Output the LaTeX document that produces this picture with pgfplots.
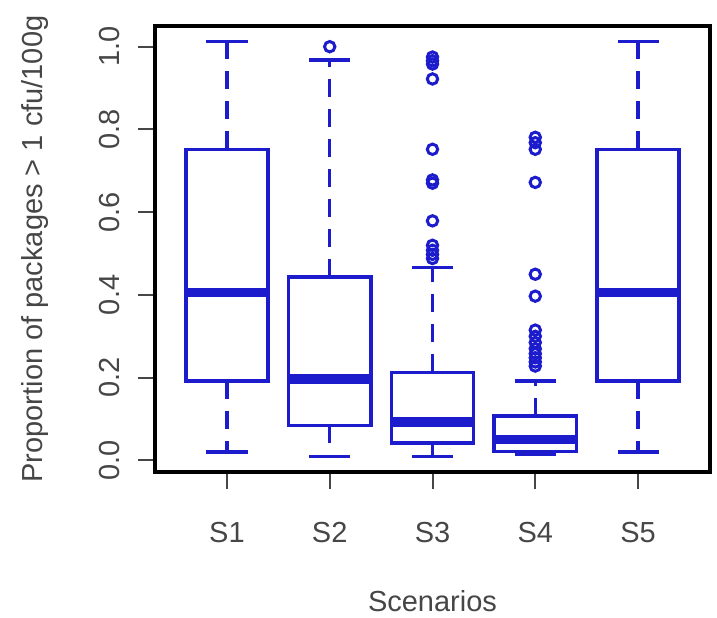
\documentclass[border=0pt]{standalone}
\usepackage{fontspec}
\setmainfont{Liberation Sans}
\usepackage{pgfplots}
\pgfplotsset{compat=1.18}
\usepgfplotslibrary{statistics}
\definecolor{bcol}{RGB}{28,28,205}
\definecolor{tcol}{RGB}{70,70,70}
\begin{document}
\begin{tikzpicture}[x=1pt,y=1pt]
\path[use as bounding box] (-77.5pt,-72.5pt) rectangle (281pt,236pt);
\begin{axis}[
  at={(0,0)}, anchor=south west,
  scale only axis, width=277.5pt, height=223pt,
  xmin=0.3, xmax=5.7, ymin=-0.028, ymax=1.05,
  axis line style={line width=1.6pt, black},
  xtick={1,2,3,4,5}, xticklabels={S1,S2,S3,S4,S5},
  ytick={0,0.2,0.4,0.6,0.8,1.0}, yticklabels={0.0,0.2,0.4,0.6,0.8,1.0},
  tick align=outside, major tick length=8.5pt,
  tick style={tcol, line width=1pt},
  xtick pos=bottom, ytick pos=left,
  font=\fontsize{14.5}{17}\selectfont,
  ticklabel style={text=tcol, font=\fontsize{14.5}{17}\selectfont, inner sep=0pt},
  xticklabel style={anchor=north, yshift=-16.5pt},
  yticklabel style={rotate=90, anchor=south, yshift=9pt},
  xlabel={Scenarios},
  ylabel={Proportion of packages > 1 cfu/100g},
  label style={text=tcol, font=\fontsize{14.5}{17}\selectfont, inner sep=0pt},
  xlabel style={at={(axis description cs:0.5,0)}, anchor=center, yshift=-64.5pt},
  ylabel style={at={(axis description cs:0,0.5)}, anchor=center, yshift=60pt},
  boxplot/draw direction=y,
  boxplot/box extend=0.8,
  boxplot/whisker extend=0.4,
  boxplot/draw/box/.code={%
    \draw[bcol, line width=1.7pt] (boxplot box cs:\pgfplotsboxplotvalue{lower quartile},0) rectangle (boxplot box cs:\pgfplotsboxplotvalue{upper quartile},1);},
  boxplot/draw/median/.code={%
    \draw[bcol, line width=4.6pt] (boxplot box cs:\pgfplotsboxplotvalue{median},0) -- (boxplot box cs:\pgfplotsboxplotvalue{median},1);},
  boxplot/draw/lower whisker/.code={%
    \draw[bcol, line width=1.7pt, dash pattern=on 9pt off 6pt] (boxplot whisker cs:\pgfplotsboxplotvalue{lower quartile},0.5) -- (boxplot whisker cs:\pgfplotsboxplotvalue{lower whisker},0.5);
    \draw[bcol, line width=1.7pt] (boxplot whisker cs:\pgfplotsboxplotvalue{lower whisker},0) -- (boxplot whisker cs:\pgfplotsboxplotvalue{lower whisker},1);},
  boxplot/draw/upper whisker/.code={%
    \draw[bcol, line width=1.7pt, dash pattern=on 9pt off 6pt] (boxplot whisker cs:\pgfplotsboxplotvalue{upper quartile},0.5) -- (boxplot whisker cs:\pgfplotsboxplotvalue{upper whisker},0.5);
    \draw[bcol, line width=1.7pt] (boxplot whisker cs:\pgfplotsboxplotvalue{upper whisker},0) -- (boxplot whisker cs:\pgfplotsboxplotvalue{upper whisker},1);},
]
\addplot[boxplot prepared={draw position=1, lower whisker=0.02, lower quartile=0.192, median=0.406, upper quartile=0.752, upper whisker=1.012}] coordinates {};
\addplot[boxplot prepared={draw position=2, lower whisker=0.01, lower quartile=0.085, median=0.197, upper quartile=0.443, upper whisker=0.968}, mark=o, mark size=2.6pt, mark options={bcol, line width=1.5pt}] table[row sep=\\, y index=0] {y\\ 1.0\\};
\addplot[boxplot prepared={draw position=3, lower whisker=0.01, lower quartile=0.042, median=0.093, upper quartile=0.213, upper whisker=0.467}, mark=o, mark size=2.6pt, mark options={bcol, line width=1.5pt}] table[row sep=\\, y index=0] {y\\ 0.975\\ 0.966\\ 0.958\\ 0.922\\ 0.752\\ 0.678\\ 0.670\\ 0.579\\ 0.520\\ 0.508\\ 0.498\\ 0.488\\};
\addplot[boxplot prepared={draw position=4, lower whisker=0.015, lower quartile=0.022, median=0.051, upper quartile=0.107, upper whisker=0.192}, mark=o, mark size=2.6pt, mark options={bcol, line width=1.5pt}] table[row sep=\\, y index=0] {y\\ 0.781\\ 0.768\\ 0.752\\ 0.672\\ 0.450\\ 0.397\\ 0.315\\ 0.300\\ 0.285\\ 0.270\\ 0.258\\ 0.248\\ 0.238\\ 0.228\\};
\addplot[boxplot prepared={draw position=5, lower whisker=0.02, lower quartile=0.192, median=0.406, upper quartile=0.752, upper whisker=1.012}] coordinates {};
\end{axis}
\end{tikzpicture}
\end{document}
